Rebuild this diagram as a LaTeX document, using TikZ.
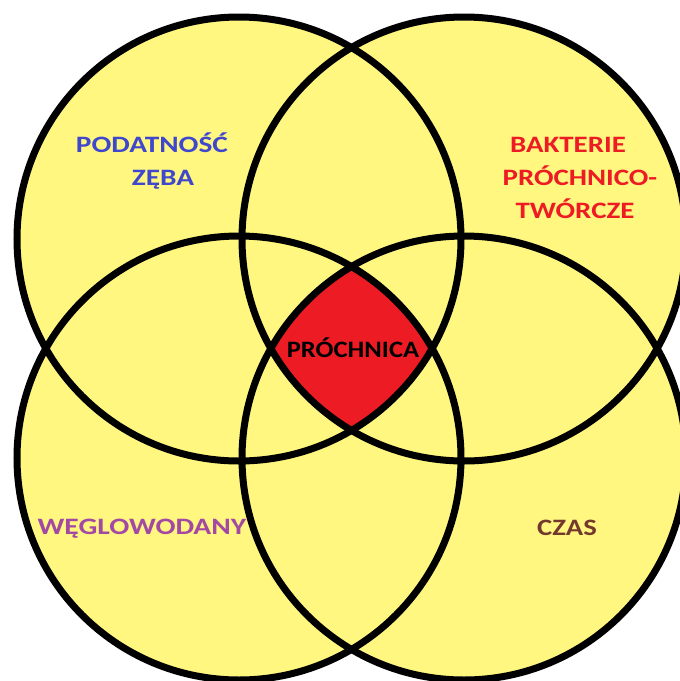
\documentclass[tikz,border=0pt]{standalone}
\usepackage{graphicx}
\usepackage{fontspec}
\setmainfont{Carlito}
\definecolor{vyellow}{RGB}{255,247,128}
\definecolor{vred}{RGB}{237,28,36}
\definecolor{tblue}{RGB}{63,72,204}
\definecolor{tred}{RGB}{237,28,36}
\definecolor{tpurple}{RGB}{163,73,164}
\definecolor{tbrown}{RGB}{115,57,45}
\newcommand\widetxt[2]{\scalebox{#1}[1]{#2}}
\tikzset{
  ring/.style={draw=black,line width=7pt},
  lbl/.style={anchor=base,inner sep=0pt,font=\fontsize{23.5}{23.5}\selectfont\bfseries},
}
\begin{document}
\begin{tikzpicture}[x=1pt,y=-1pt]
\useasboundingbox (0,0) rectangle (680,681);
\clip (0,0) rectangle (680,681);
\fill[white] (0,0) rectangle (680,681);
\coordinate (tl) at (239,239);
\coordinate (tr) at (464,239);
\coordinate (bl) at (239,458);
\coordinate (br) at (464,458);
\foreach \c in {tl,tr,bl,br}
  \fill[vyellow] (\c) circle[radius=222pt];
\begin{scope}
  \clip (tl) circle[radius=222pt];
  \clip (tr) circle[radius=222pt];
  \clip (bl) circle[radius=222pt];
  \fill[vred] (br) circle[radius=222pt];
\end{scope}
\foreach \c in {tl,tr,bl,br}
  \draw[ring] (\c) circle[radius=222pt];
\node[lbl,text=tblue] (p1) at (152,152) {\widetxt{1.25}{PODATNOŚĆ}};
\node[lbl,text=tblue] (p2) at (163,185) {\widetxt{1.25}{ZĘBA}};
\node[lbl,text=tred] (b1) at (568,152) {\widetxt{1.23}{BAKTERIE}};
\node[lbl,text=tred] (b2) at (580,185) {\widetxt{1.23}{PRÓCHNICO-}};
\node[lbl,text=tred] (b3) at (575,218) {\widetxt{1.23}{TWÓRCZE}};
\node[lbl,text=tpurple] (w) at (142,534) {\widetxt{1.26}{WĘGLOWODANY}};
\node[lbl,text=tbrown] (cz) at (567,535) {\widetxt{1.22}{CZAS}};
\node[lbl,text=black] (pr) at (353,357) {\widetxt{1.13}{PRÓCHNICA}};
\end{tikzpicture}
\end{document}
